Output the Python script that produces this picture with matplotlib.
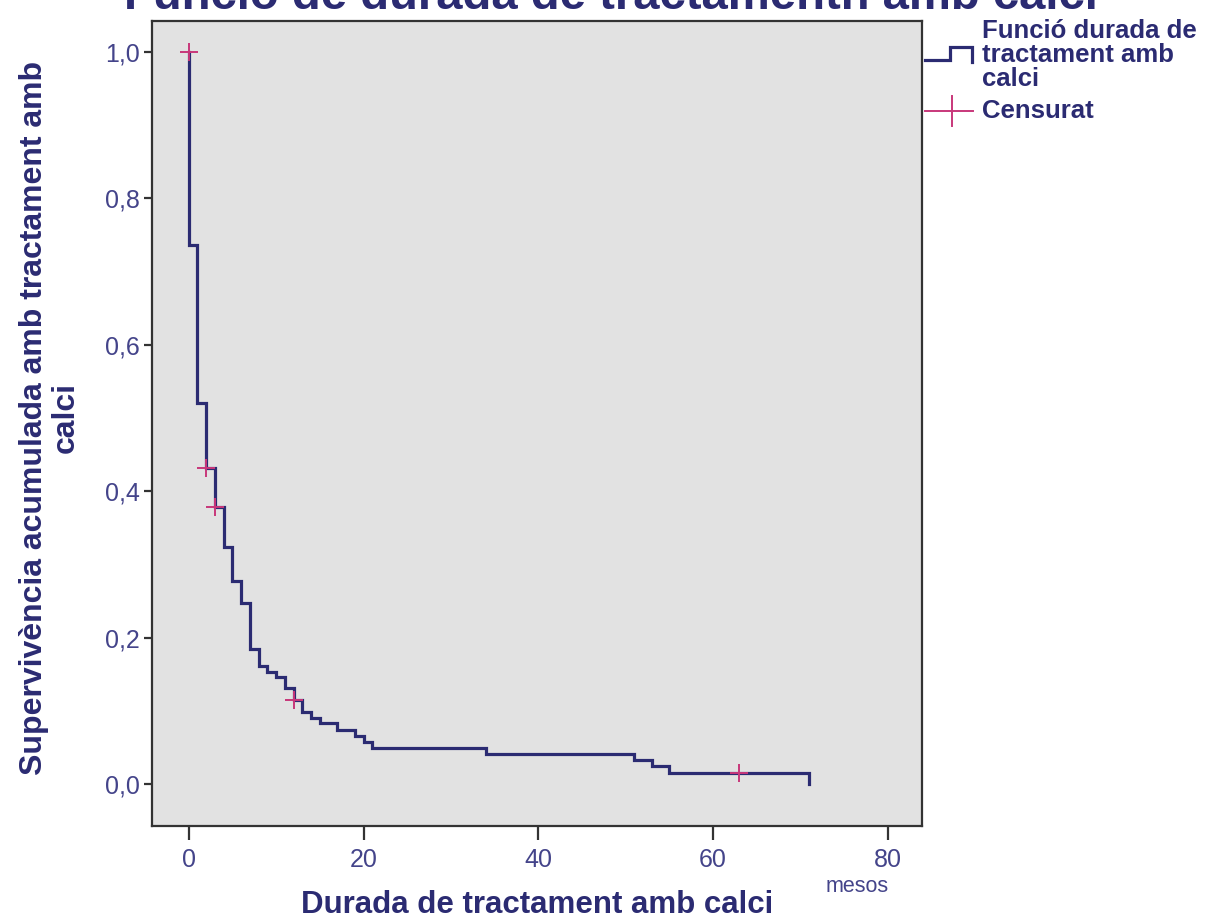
import matplotlib
matplotlib.use("Agg")
import matplotlib.pyplot as plt
from matplotlib.lines import Line2D

# Kaplan-Meier estimate: event times (months) and survival after each step
times = [0, 0, 1, 2, 3, 4, 5, 6, 7, 8, 9, 10, 11, 12, 13, 14, 15, 17, 19, 20, 21,
         34, 51, 53, 55, 71]
surv = [1.0, 0.736, 0.521, 0.432, 0.379, 0.324, 0.278, 0.248, 0.185, 0.161, 0.153,
        0.146, 0.131, 0.115, 0.099, 0.090, 0.083, 0.074, 0.066, 0.058, 0.049,
        0.041, 0.033, 0.025, 0.016, 0.0]

# censored cases
cens_t = [0, 2, 3, 12, 63]
cens_s = [1.0, 0.432, 0.379, 0.115, 0.016]

xticks = [0, 20, 40, 60, 80]
yticks = [0.0, 0.2, 0.4, 0.6, 0.8, 1.0]

navy = "#2b2b72"
lab_col = "#44448a"
pink = "#c8377a"
W, H = 1208, 919

fig = plt.figure(figsize=(W / 100, H / 100), dpi=100)
ax = fig.add_axes([152 / W, 1 - 826 / H, (922 - 152) / W, (826 - 21) / H])
ax.set_facecolor("#e2e2e2")

ax.step(times, surv, where="post", color=navy, lw=2.3, solid_joinstyle="miter")
ax.plot(cens_t, cens_s, "+", color=pink, ms=13, mew=1.4, zorder=3)

ax.set_xlim(-4.2, 83.9)
ax.set_ylim(-0.057, 1.042)
ax.set_xticks(xticks)
ax.set_yticks(yticks)
ax.set_xticklabels([str(v) for v in xticks])
ax.set_yticklabels([f"{v:.1f}".replace(".", ",") for v in yticks])

tickfont = ["Liberation Sans", "DejaVu Sans"]
for lbl in ax.get_xticklabels() + ax.get_yticklabels():
    lbl.set_family(tickfont)
    lbl.set_fontsize(18)
    lbl.set_color(lab_col)
ax.tick_params(axis="x", direction="out", length=10, width=1.6, color="#333333", pad=6)
ax.tick_params(axis="y", direction="out", length=6, width=1.6, color="#333333", pad=3)
for sp in ax.spines.values():
    sp.set_color("#333333")
    sp.set_linewidth(1.6)

bold = dict(family=["Liberation Sans", "DejaVu Sans"], weight="bold", color=navy)

# title sits partly above the top edge
fig.text(611 / W, 1 - 9 / H, "Funció de durada de tractamenth amb calci",
         ha="center", va="baseline", fontsize=34, **bold)
fig.text(537 / W, 1 - 905 / H, "Durada de tractament amb calci",
         ha="center", va="center", fontsize=22.5, **bold)
fig.text(50 / W, 1 - 418 / H, "Supervivència acumulada amb tractament amb\ncalci",
         ha="center", va="center", rotation=90, multialignment="center",
         fontsize=23, linespacing=1.05, **bold)
fig.text(857 / W, 1 - 886 / H, "mesos", ha="center", va="center", fontsize=15.5,
         family=tickfont, color=lab_col)


# legend drawn at the right of the plot
def fig_line(xs, ys, **kw):
    fig.add_artist(Line2D([x / W for x in xs], [1 - y / H for y in ys],
                          transform=fig.transFigure, **kw))


fig_line([925, 950, 950, 972, 972], [60, 60, 47, 47, 62], color=navy, lw=2.3,
         solid_joinstyle="miter")
fig_line([925, 973], [111, 111], color=pink, lw=1.4)
fig_line([952, 952], [96, 126], color=pink, lw=1.4)
fig.text(982 / W, 1 - 55 / H, "Funció durada de\ntractament amb\ncalci",
         ha="left", va="center", fontsize=18.5, linespacing=0.98, **bold)
fig.text(982 / W, 1 - 111 / H, "Censurat", ha="left", va="center", fontsize=18.5, **bold)

fig.savefig("out.png", dpi=100)
